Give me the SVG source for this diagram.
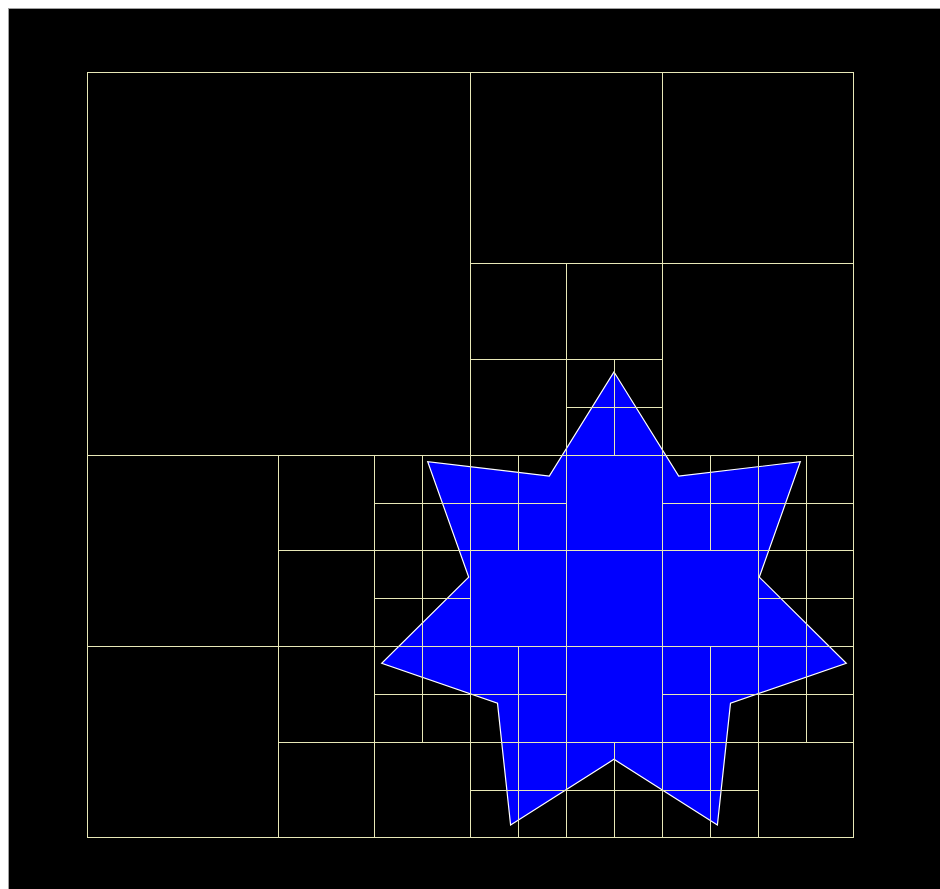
<svg xmlns="http://www.w3.org/2000/svg" width="940" height="889" viewBox="0 0 940 889">
<style>
.bg{fill:#000;stroke:#a0a0a0;stroke-width:1}
.star{fill:#0000ff;stroke:#fff;stroke-width:1.2;stroke-linejoin:miter}
.grid{fill:none;stroke:#e8e8b8;stroke-width:1}
</style>
<rect class="bg" x="8.5" y="8.5" width="940" height="890"/>
<g id="star">
<polygon class="star" points="614,372 678.7,476.1 800.3,461.7 759.3,577.1 846.3,663.3 730.5,703.2 717.4,825 614,759.3 510.6,825 497.5,703.2 381.7,663.3 468.7,577.1 427.7,461.7 549.3,476.1"/>
</g>
<g id="quadtree" class="grid">
<rect x="87.5" y="72.5" width="766" height="765"/>
<path d="M470.5 72.5V837.5M87.5 455.5H853.5M662.5 72.5V837.5M470.5 263.5H853.5M566.5 263.5V837.5M470.5 359.5H662.5M614.5 359.5V455.5M614.5 742.5V837.5M566.5 407.5H662.5"/>
<path d="M278.5 455.5V837.5M87.5 646.5H853.5M374.5 455.5V837.5M278.5 550.5H853.5M422.5 455.5V742.5M374.5 503.5H566.5M662.5 503.5H853.5M374.5 598.5H470.5M758.5 598.5H853.5M278.5 742.5H853.5M374.5 694.5H566.5M662.5 694.5H853.5"/>
<path d="M518.5 455.5V550.5M518.5 646.5V837.5M710.5 455.5V550.5M710.5 646.5V837.5M758.5 455.5V837.5M806.5 455.5V742.5M470.5 790.5H758.5"/>
</g>
</svg>
